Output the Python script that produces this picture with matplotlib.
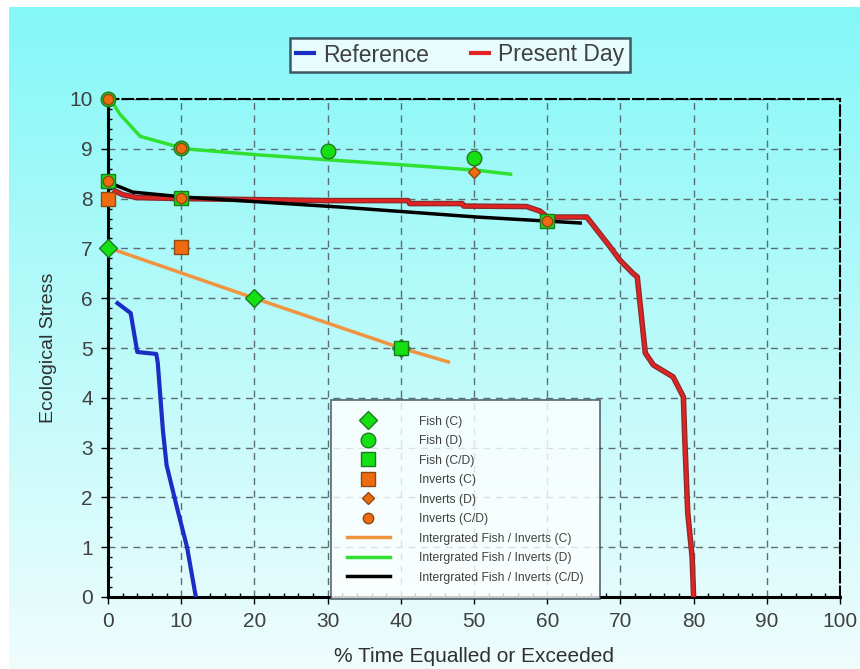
import matplotlib
matplotlib.use("Agg")
import matplotlib.pyplot as plt
import matplotlib.patheffects as pe
from matplotlib.lines import Line2D
from matplotlib.ticker import MultipleLocator
import numpy as np

# Daten
ref_x = [1.3, 3.1, 4.0, 6.6, 6.8, 7.5, 8.0, 9.5, 10.8, 12.0]
ref_y = [5.9, 5.7, 4.92, 4.88, 4.7, 3.35, 2.65, 1.75, 1.0, 0.0]

pd_x = [1.0, 2.0, 4.0, 10.0, 20.0, 30.0, 41.0, 41.2, 48.4, 48.6, 57.2, 59.0, 60.0, 65.4,
        68.6, 69.9, 71.7, 72.3, 73.4, 74.5, 77.2, 78.6, 78.8, 79.2, 79.8, 80.0]
pd_y = [8.15, 8.08, 8.02, 8.0, 7.98, 7.96, 7.96, 7.9, 7.9, 7.85, 7.84, 7.75, 7.63, 7.63,
        7.03, 6.77, 6.5, 6.43, 4.9, 4.66, 4.42, 4.02, 3.15, 1.69, 0.8, 0.0]

int_c_x = [0.3, 20.0, 40.0, 46.5]
int_c_y = [7.0, 6.0, 5.0, 4.72]

int_d_x = [0.3, 1.6, 4.4, 10.5, 20.4, 30.0, 40.0, 50.4, 55.0]
int_d_y = [10.0, 9.7, 9.25, 9.0, 8.88, 8.78, 8.68, 8.57, 8.49]

int_cd_x = [0.5, 1.0, 3.4, 10.5, 31.7, 50.4, 64.5]
int_cd_y = [8.35, 8.27, 8.13, 8.03, 7.83, 7.63, 7.51]

fish_c_x = [0, 20, 40]
fish_c_y = [7.0, 6.0, 5.0]
fish_d_x = [0, 10, 30, 50]
fish_d_y = [10.0, 9.02, 8.95, 8.82]
fish_cd_x = [0, 10, 60, 40]
fish_cd_y = [8.35, 8.02, 7.55, 5.0]
inv_c_x = [0, 10]
inv_c_y = [8.0, 7.03]
inv_d_x = [50]
inv_d_y = [8.53]
inv_cd_x = [0, 0, 10, 10, 60]
inv_cd_y = [10.0, 8.35, 9.02, 8.02, 7.55]

narrow = ["Liberation Sans Narrow", "Liberation Sans", "DejaVu Sans"]
regular = ["Liberation Sans", "DejaVu Sans"]

fig = plt.figure(figsize=(8.6, 6.69), dpi=100, facecolor="white")

# Hintergrund mit Farbverlauf
bg = fig.add_axes([9 / 860, 0, 1 - 9 / 860, 1 - 7 / 669], zorder=-10)
top = np.array([0.52, 0.97, 0.97])
bot = np.array([0.94, 0.99, 0.99])
t = np.linspace(0, 1, 256)[:, None]
grad = top * (1 - t) + bot * t
bg.imshow(grad[:, None, :].repeat(2, axis=1), aspect="auto", extent=[0, 1, 0, 1])
bg.axis("off")

ax = fig.add_axes([108 / 860, 72 / 669, 732 / 860, 498 / 669])
ax.set_facecolor("none")

green_f, green_e = "#14E014", "#1E7A1E"
orng_f, orng_e = "#F06A10", "#8A4A14"

ax.plot(ref_x, ref_y, color="#1A2EC4", lw=3, zorder=3)
ax.plot(pd_x, pd_y, color="#E02424", lw=2.2, zorder=3,
        path_effects=[pe.Stroke(linewidth=4, foreground="#8C2A2A"), pe.Normal()])

ax.plot(int_c_x, int_c_y, color="#F09440", lw=2.5, zorder=4)
ax.plot(int_d_x, int_d_y, color="#30E030", lw=2.5, zorder=4)
ax.plot(int_cd_x, int_cd_y, color="black", lw=2.5, zorder=4)

mk = dict(ls="none", mew=1, clip_on=False)
ax.plot(fish_c_x, fish_c_y, marker="D", ms=9, mfc=green_f, mec=green_e, zorder=5, **mk)
ax.plot(fish_d_x, fish_d_y, marker="o", ms=10.5, mfc=green_f, mec=green_e, zorder=5, **mk)
ax.plot(fish_cd_x, fish_cd_y, marker="s", ms=10.5, mfc=green_f, mec=green_e, zorder=5, **mk)
ax.plot(inv_c_x, inv_c_y, marker="s", ms=10.5, mfc=orng_f, mec=orng_e, zorder=6, **mk)
ax.plot(inv_d_x, inv_d_y, marker="D", ms=6.5, mfc=orng_f, mec=orng_e, zorder=6, **mk)
ax.plot(inv_cd_x, inv_cd_y, marker="o", ms=7.5, mfc=orng_f, mec=orng_e, zorder=6, **mk)

ax.set_xlim(0, 100)
ax.set_ylim(0, 10)
ax.xaxis.set_major_locator(MultipleLocator(10))
ax.xaxis.set_minor_locator(MultipleLocator(2))
ax.yaxis.set_major_locator(MultipleLocator(1))
ax.yaxis.set_minor_locator(MultipleLocator(0.2))
ax.grid(True, which="major", ls=(0, (5, 4)), color="#5A6E74", lw=1)
ax.set_axisbelow(True)

for s in ["left", "bottom"]:
    ax.spines[s].set_linewidth(2.2)
for s in ["top", "right"]:
    ax.spines[s].set_linestyle((0, (5, 2)))
    ax.spines[s].set_linewidth(1.5)

ax.tick_params(which="major", direction="out", length=5, width=1, labelsize=15,
               labelcolor="#404040", pad=6)
ax.tick_params(which="minor", direction="in", length=3, width=1)
for lab in ax.get_xticklabels() + ax.get_yticklabels():
    lab.set_family(narrow)

ax.set_xlabel("% Time Equalled or Exceeded", fontsize=15, color="#303030",
              family=narrow, labelpad=11)
ax.set_ylabel("Ecological Stress", fontsize=14, color="#303030",
              family=regular, labelpad=9)

# Legende oben
top_handles = [Line2D([], [], color="#1A2EC4", lw=3),
               Line2D([], [], color="#E02424", lw=3)]
leg1 = fig.legend(top_handles, ["Reference", "Present Day"], loc="center",
                  bbox_to_anchor=(460 / 860, 1 - 55 / 669), ncol=2, frameon=True,
                  fancybox=False, edgecolor="#203040",
                  prop={"family": regular, "size": 16.5}, handlelength=0.8,
                  handletextpad=0.4, columnspacing=1.8, borderpad=0.25)
leg1.get_frame().set_linewidth(1.8)
for txt in leg1.get_texts():
    txt.set_color("#404040")

# Legende unten
low_handles = [
    Line2D([], [], ls="none", marker="D", ms=9, mfc=green_f, mec=green_e),
    Line2D([], [], ls="none", marker="o", ms=10.5, mfc=green_f, mec=green_e),
    Line2D([], [], ls="none", marker="s", ms=10.5, mfc=green_f, mec=green_e),
    Line2D([], [], ls="none", marker="s", ms=10.5, mfc=orng_f, mec=orng_e),
    Line2D([], [], ls="none", marker="D", ms=6.5, mfc=orng_f, mec=orng_e),
    Line2D([], [], ls="none", marker="o", ms=7.5, mfc=orng_f, mec=orng_e),
    Line2D([], [], color="#F09440", lw=2.5),
    Line2D([], [], color="#30E030", lw=2.5),
    Line2D([], [], color="black", lw=2.5),
]
low_labels = ["Fish (C)", "Fish (D)", "Fish (C/D)", "Inverts (C)", "Inverts (D)",
              "Inverts (C/D)", "Intergrated Fish / Inverts (C)",
              "Intergrated Fish / Inverts (D)", "Intergrated Fish / Inverts (C/D)"]
leg2 = ax.legend(low_handles, low_labels, loc="upper left",
                 bbox_to_anchor=(331 / 860, 1 - 400 / 669), bbox_transform=fig.transFigure,
                 frameon=True, fancybox=False, edgecolor="#304050",
                 prop={"family": narrow, "size": 8.7}, handlelength=3.6,
                 handletextpad=2.4, labelspacing=0.62, borderpad=1.3,
                 borderaxespad=0)
leg2.get_frame().set_linewidth(1.2)
leg2.set_zorder(10)
for txt in leg2.get_texts():
    txt.set_color("#404040")

fig.savefig("out.png", dpi=100, facecolor="white")
